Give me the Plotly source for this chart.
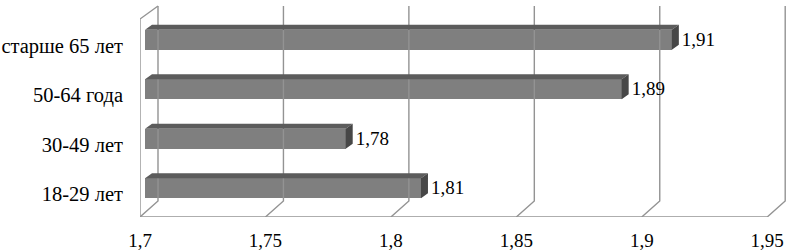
import plotly.graph_objects as go

# ---- data ----
categories = ["18-29 лет", "30-49 лет", "50-64 года", "старше 65 лет"]
values = [1.81, 1.78, 1.89, 1.91]
x_ticks = [1.7, 1.75, 1.8, 1.85, 1.9, 1.95]

# ---- geometry (pixel -> data conversion) ----
X0 = 1.7
PX_X = 2508.8          # pixels per x unit
PX_Y = 49.5            # pixels per category
L, R, T, B = 140, 3, 4, 34
W, H = 791, 251
plot_w = W - L - R
plot_h = H - T - B
x_max = X0 + plot_w / PX_X
y_max = plot_h / PX_Y

def px_x(p):
    return p / PX_X

def px_y(p):
    return p / PX_Y

DXB = px_x(18)          # back-wall depth offset
Y_BACK_BOT = px_y(16)
Y_FRONT_TOP = px_y(198)
Y_BACK_TOP = px_y(211)

grid_color = "#939393"

# gridlines / walls
gx, gy = [], []
gx += [X0, x_ticks[-1], None]
gy += [0, 0, None]
for v in x_ticks:
    gx += [v, v + DXB, v + DXB, None]
    gy += [0, Y_BACK_BOT, Y_BACK_TOP, None]
gx += [X0, X0, X0 + DXB, None]
gy += [0, Y_FRONT_TOP, Y_BACK_TOP, None]
# left ticks at category boundaries
for i in range(len(categories) + 1):
    yy = Y_FRONT_TOP * i / len(categories)
    gx += [X0 - px_x(5), X0, None]
    gy += [yy, yy, None]
# bottom ticks
for v in x_ticks:
    gx += [v, v, None]
    gy += [0, -px_y(3), None]

fig = go.Figure()
fig.add_trace(go.Scatter(x=gx, y=gy, mode="lines",
                         line=dict(color=grid_color, width=1.4),
                         hoverinfo="skip", showlegend=False, cliponaxis=False))

# bars
band = Y_FRONT_TOP / len(categories)
centers = [band * (i + 0.5) + px_y(4) for i in range(len(categories))]
bar_h = px_y(20)
fx = px_x(5)
ddx, ddy = px_x(7), px_y(5)

fig.add_trace(go.Bar(
    y=centers, x=[v - X0 for v in values], base=X0 + fx,
    orientation="h", width=bar_h,
    marker=dict(color="#7f7f7f", line=dict(width=0)),
    hoverinfo="skip", showlegend=False))

tx, ty, sx, sy = [], [], [], []
for c, v in zip(centers, values):
    x0, x1 = X0 + fx, v + fx
    yt, yb = c + bar_h / 2, c - bar_h / 2
    tx += [x0, x0 + ddx, x1 + ddx, x1, x0, None]
    ty += [yt, yt + ddy, yt + ddy, yt, yt, None]
    sx += [x1, x1 + ddx, x1 + ddx, x1, x1, None]
    sy += [yt, yt + ddy, yb + ddy, yb, yt, None]

fig.add_trace(go.Scatter(x=tx, y=ty, mode="lines", fill="toself",
                         fillcolor="#5c5c5c", line=dict(width=0, color="#5c5c5c"),
                         hoverinfo="skip", showlegend=False))
fig.add_trace(go.Scatter(x=sx, y=sy, mode="lines", fill="toself",
                         fillcolor="#474747", line=dict(width=0, color="#474747"),
                         hoverinfo="skip", showlegend=False))

# value labels
fig.add_trace(go.Scatter(
    x=[v + fx + ddx + px_x(3) for v in values], y=[c - px_y(1) for c in centers],
    mode="text", text=[f"{v:.2f}".replace(".", ",") for v in values],
    textposition="middle right",
    textfont=dict(family="Liberation Serif", size=19, color="black"),
    hoverinfo="skip", showlegend=False, cliponaxis=False))

fig.update_layout(
    width=W, height=H,
    margin=dict(l=L, r=R, t=T, b=B, pad=0),
    paper_bgcolor="white", plot_bgcolor="white",
    separators=", ",
    bargap=0,
    font=dict(family="Liberation Serif", size=19, color="black"),
    xaxis=dict(range=[X0, x_max], tickvals=x_ticks,
               ticktext=[f"{v:g}".replace(".", ",") for v in x_ticks],
               tickfont=dict(size=19),
               showgrid=False, zeroline=False, showline=False, ticks="",
               ticklabelstandoff=10, automargin=False, fixedrange=True),
    yaxis=dict(range=[0, y_max],
               tickvals=[band * (i + 0.5) - px_y(2) for i in range(len(categories))],
               ticktext=categories, tickfont=dict(size=20.5),
               showgrid=False, zeroline=False, showline=False, ticks="",
               ticklabelstandoff=16, automargin=False, fixedrange=True),
)

fig.write_html("out.html", config={"displayModeBar": False},
               post_script="document.body.style.margin='0';document.body.style.padding='0';")
